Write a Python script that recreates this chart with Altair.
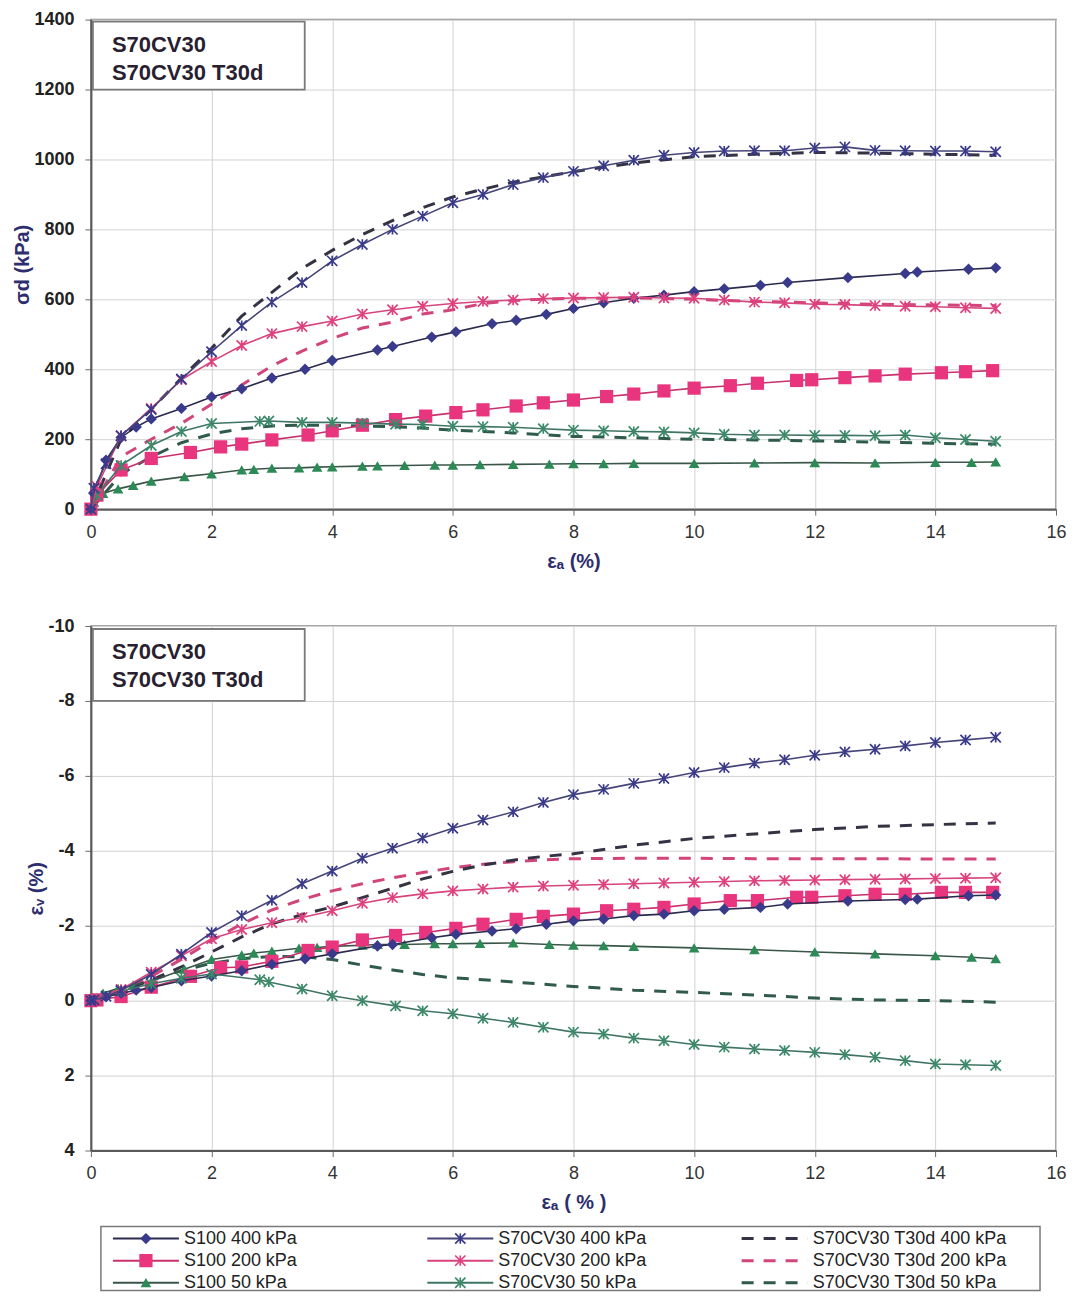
import altair as alt
import pandas as pd

# ---------------- data ----------------
X_TICKS = [0, 2, 4, 6, 8, 10, 12, 14, 16]
SD_TICKS = [0, 200, 400, 600, 800, 1000, 1200, 1400]
EV_TICKS = [-10, -8, -6, -4, -2, 0, 2, 4]
BOX_LINES = ["S70CV30", "S70CV30 T30d"]

ea_s100_400 = [0, 0.05, 0.25, 0.5, 0.75, 1.0, 1.5, 2.0, 2.5, 3.0, 3.55, 4.0, 4.75, 5.0, 5.65, 6.05,
               6.65, 7.05, 7.55, 8.0, 8.5, 9.0, 9.5, 10.0, 10.5, 11.1, 11.55, 12.55, 13.5, 13.7, 14.55, 15.0]
sd_s100_400 = [0, 45, 140, 205, 235, 258, 288, 321, 344, 375, 400, 425, 455, 465, 492, 507,
               530, 540, 557, 574, 590, 603, 612, 622, 630, 640, 648, 662, 674, 678, 686, 690]
ev_s100_400 = [0, -0.02, -0.1, -0.2, -0.28, -0.35, -0.53, -0.66, -0.8, -0.97, -1.12, -1.25, -1.46, -1.5, -1.68, -1.77,
               -1.86, -1.92, -2.04, -2.13, -2.18, -2.27, -2.31, -2.4, -2.44, -2.49, -2.58, -2.66, -2.7, -2.71, -2.8, -2.82]

ea_s100_200 = [0, 0.1, 0.5, 1.0, 1.65, 2.15, 2.5, 3.0, 3.6, 4.0, 4.5, 5.05, 5.55, 6.05, 6.5, 7.05,
               7.5, 8.0, 8.55, 9.0, 9.5, 10.0, 10.6, 11.05, 11.7, 11.95, 12.5, 13.0, 13.5, 14.1, 14.5, 14.95]
sd_s100_200 = [0, 40, 112, 145, 162, 178, 186, 198, 212, 224, 240, 256, 266, 276, 284, 295,
               304, 312, 322, 329, 338, 346, 353, 360, 368, 370, 376, 381, 386, 390, 393, 396]
ev_s100_200 = [0, -0.02, -0.11, -0.36, -0.65, -0.88, -0.9, -1.05, -1.34, -1.43, -1.62, -1.74, -1.82, -1.93, -2.04, -2.17,
               -2.25, -2.31, -2.4, -2.44, -2.49, -2.58, -2.67, -2.67, -2.76, -2.76, -2.8, -2.84, -2.84, -2.89, -2.89, -2.89]

ea_s100_50 = [0, 0.05, 0.2, 0.45, 0.7, 1.0, 1.55, 2.0, 2.5, 2.7, 3.0, 3.45, 3.75, 4.0, 4.5, 4.75,
              5.2, 5.7, 6.0, 6.45, 7.0, 7.6, 8.0, 8.5, 9.0, 10.0, 11.0, 12.0, 13.0, 14.0, 14.6, 15.0]
sd_s100_50 = [0, 20, 45, 58, 68, 80, 93, 101, 112, 114, 117, 118, 120, 121, 123, 124,
              125, 126, 126, 127, 128, 129, 130, 130, 131, 131, 132, 133, 132, 134, 134, 135]
ev_s100_50 = [0, -0.05, -0.2, -0.33, -0.42, -0.52, -0.84, -1.1, -1.22, -1.27, -1.32, -1.4, -1.42, -1.45, -1.48, -1.5,
              -1.5, -1.52, -1.52, -1.53, -1.54, -1.5, -1.48, -1.47, -1.45, -1.41, -1.36, -1.3, -1.25, -1.2, -1.16, -1.12]

ea_s70_400 = [0, 0.05, 0.25, 0.5, 1.0, 1.5, 2.0, 2.5, 3.0, 3.5, 4.0, 4.5, 5.0, 5.5, 6.0, 6.5, 7.0,
              7.5, 8.0, 8.5, 9.0, 9.5, 10.0, 10.5, 11.0, 11.5, 12.0, 12.5, 13.0, 13.5, 14.0, 14.5, 15.0]
sd_s70_400 = [0, 60, 130, 210, 285, 372, 450, 525, 592, 648, 710, 757, 800, 838, 876, 900, 928,
              948, 966, 982, 998, 1012, 1020, 1024, 1025, 1025, 1033, 1036, 1026, 1025, 1024, 1024, 1022]
ev_s70_400 = [0, -0.02, -0.12, -0.27, -0.7, -1.24, -1.82, -2.27, -2.68, -3.12, -3.46, -3.8, -4.07, -4.34, -4.6, -4.82, -5.04,
              -5.29, -5.5, -5.64, -5.8, -5.93, -6.09, -6.22, -6.34, -6.43, -6.55, -6.64, -6.71, -6.8, -6.89, -6.96, -7.03]

ea_s70_200 = [0, 0.1, 0.5, 1.0, 1.5, 2.0, 2.5, 3.0, 3.5, 4.0, 4.5, 5.0, 5.5, 6.0, 6.5, 7.0,
              7.5, 8.0, 8.5, 9.0, 9.5, 10.0, 10.5, 11.0, 11.5, 12.0, 12.5, 13.0, 13.5, 14.0, 14.5, 15.0]
sd_s70_200 = [0, 65, 210, 288, 370, 422, 468, 502, 522, 538, 558, 570, 580, 588, 594, 598,
              602, 604, 605, 606, 604, 603, 598, 592, 590, 586, 585, 582, 580, 579, 576, 574]
ev_s70_200 = [0, -0.05, -0.3, -0.76, -1.2, -1.65, -1.9, -2.08, -2.22, -2.4, -2.6, -2.75, -2.85, -2.93, -2.98, -3.03,
              -3.06, -3.08, -3.1, -3.12, -3.14, -3.16, -3.18, -3.2, -3.21, -3.22, -3.23, -3.24, -3.25, -3.26, -3.27, -3.28]

ea_s70_50 = [0, 0.1, 0.5, 1.0, 1.5, 2.0, 2.8, 2.95, 3.5, 4.0, 4.5, 5.05, 5.5, 6.0, 6.5, 7.0,
             7.5, 8.0, 8.5, 9.0, 9.5, 10.0, 10.5, 11.0, 11.5, 12.0, 12.5, 13.0, 13.5, 14.0, 14.5, 15.0]
sd_s70_50 = [0, 40, 125, 182, 222, 245, 251, 252, 248, 248, 246, 243, 242, 237, 236, 234,
             230, 226, 224, 222, 221, 218, 214, 212, 212, 211, 211, 210, 212, 204, 199, 194]
ev_s70_50 = [0, -0.05, -0.25, -0.45, -0.6, -0.71, -0.56, -0.5, -0.31, -0.13, 0.0, 0.14, 0.27, 0.35, 0.47, 0.58,
             0.71, 0.84, 0.89, 1.0, 1.07, 1.17, 1.24, 1.29, 1.33, 1.38, 1.44, 1.51, 1.6, 1.69, 1.71, 1.73]

ea_t30_400 = [0, 0.5, 1, 1.5, 2, 2.5, 3, 3.5, 4, 4.5, 5, 5.5, 6, 6.5, 7, 7.5, 8, 9, 10, 11, 12, 13, 14, 15]
sd_t30_400 = [0, 200, 285, 375, 460, 552, 620, 688, 740, 785, 825, 862, 893, 915, 935, 950, 965, 990, 1008, 1015, 1020, 1018, 1015, 1012]
ev_t30_400 = [0, -0.25, -0.55, -0.9, -1.3, -1.7, -2.05, -2.3, -2.5, -2.75, -3.0, -3.25, -3.45, -3.62, -3.75, -3.85, -3.92, -4.15, -4.33, -4.45, -4.57, -4.65, -4.7, -4.74]

ea_t30_200 = [0, 0.5, 1, 1.5, 2, 2.5, 3, 3.5, 4, 4.5, 5, 5.5, 6, 6.5, 7, 7.5, 8, 9, 10, 11, 12, 13, 14, 15]
sd_t30_200 = [0, 150, 200, 245, 300, 355, 410, 452, 488, 518, 535, 558, 570, 588, 597, 600, 603, 604, 600, 594, 590, 586, 584, 582]
ev_t30_200 = [0, -0.3, -0.65, -1.1, -1.6, -2.05, -2.42, -2.7, -2.93, -3.12, -3.28, -3.42, -3.55, -3.64, -3.71, -3.76, -3.79, -3.8, -3.8, -3.79, -3.79, -3.79, -3.78, -3.78]

ea_t30_50 = [0, 0.5, 1, 1.5, 2, 2.5, 3, 3.5, 4, 4.5, 5, 5.5, 6, 6.5, 7, 7.5, 8, 9, 10, 11, 12, 13, 14, 15]
sd_t30_50 = [0, 100, 150, 190, 215, 230, 238, 240, 240, 238, 236, 232, 226, 222, 218, 213, 208, 204, 200, 198, 195, 192, 188, 186]
ev_t30_50 = [0, -0.3, -0.55, -0.8, -1.0, -1.12, -1.18, -1.17, -1.1, -0.95, -0.82, -0.7, -0.61, -0.56, -0.5, -0.44, -0.38, -0.28, -0.22, -0.15, -0.07, -0.02, 0.0, 0.04]

SERIES_NAMES = ["S100 400 kPa", "S70CV30 400 kPa", "S70CV30 T30d 400 kPa",
                "S100 200 kPa", "S70CV30 200 kPa", "S70CV30 T30d 200 kPa",
                "S100 50 kPa", "S70CV30 50 kPa", "S70CV30 T30d 50 kPa"]
SERIES_DATA = {
    "S100 400 kPa": (ea_s100_400, sd_s100_400, ev_s100_400),
    "S70CV30 400 kPa": (ea_s70_400, sd_s70_400, ev_s70_400),
    "S70CV30 T30d 400 kPa": (ea_t30_400, sd_t30_400, ev_t30_400),
    "S100 200 kPa": (ea_s100_200, sd_s100_200, ev_s100_200),
    "S70CV30 200 kPa": (ea_s70_200, sd_s70_200, ev_s70_200),
    "S70CV30 T30d 200 kPa": (ea_t30_200, sd_t30_200, ev_t30_200),
    "S100 50 kPa": (ea_s100_50, sd_s100_50, ev_s100_50),
    "S70CV30 50 kPa": (ea_s70_50, sd_s70_50, ev_s70_50),
    "S70CV30 T30d 50 kPa": (ea_t30_50, sd_t30_50, ev_t30_50),
}

# ---------------- styles ----------------
STAR = "M-1,-1L1,1M-1,1L1,-1M0,-1L0,1"
NAVY = "#2e2e6e"
FONT = "Liberation Sans, Arial, DejaVu Sans, sans-serif"
STYLE = {
    "S100 400 kPa": dict(line="#2a2a4e", lw=1.6, dash=None, shape="diamond", mc="#3a3a8c", filled=True, size=130),
    "S100 200 kPa": dict(line="#c8306e", lw=1.6, dash=None, shape="square", mc="#e8357e", filled=True, size=175),
    "S100 50 kPa": dict(line="#3a5648", lw=1.6, dash=None, shape="triangle-up", mc="#2b8a55", filled=True, size=115),
    "S70CV30 400 kPa": dict(line="#45457a", lw=1.6, dash=None, shape=STAR, mc="#3a3a8c", filled=False, size=105),
    "S70CV30 200 kPa": dict(line="#d8457e", lw=1.6, dash=None, shape=STAR, mc="#e0407e", filled=False, size=105),
    "S70CV30 50 kPa": dict(line="#3f7564", lw=1.6, dash=None, shape=STAR, mc="#3b8a6a", filled=False, size=105),
    "S70CV30 T30d 400 kPa": dict(line="#333344", lw=3, dash=[12, 10], shape=None),
    "S70CV30 T30d 200 kPa": dict(line="#d2457a", lw=3, dash=[12, 10], shape=None),
    "S70CV30 T30d 50 kPa": dict(line="#2f5a4c", lw=3, dash=[12, 10], shape=None),
}
DRAW_ORDER = ["S70CV30 T30d 50 kPa", "S70CV30 T30d 200 kPa", "S70CV30 T30d 400 kPa",
              "S100 50 kPa", "S100 200 kPa", "S100 400 kPa",
              "S70CV30 50 kPa", "S70CV30 200 kPa", "S70CV30 400 kPa"]

W = 966


def x_axis(title):
    return alt.Axis(values=X_TICKS, title=title, grid=True, gridColor="#d2d2d2", gridWidth=1,
                    domainColor="#5a5a5a", domainWidth=2, tickColor="#6a6a6a", tickSize=6,
                    labelFont=FONT, labelFontSize=18, labelColor="#333333", labelPadding=8,
                    labelFlush=False, labelOverlap=False,
                    titleFont=FONT, titleFontSize=20, titleFontWeight="bold", titleColor=NAVY,
                    titlePadding=10)


def y_axis(title, ticks):
    return alt.Axis(values=ticks, title=title, grid=True, gridColor="#d2d2d2", gridWidth=1,
                    domainColor="#5a5a5a", domainWidth=2, tickColor="#6a6a6a", tickSize=6,
                    labelFont=FONT, labelFontSize=18, labelFontWeight="bold", labelColor="#222222",
                    labelPadding=11, labelExpr="'' + datum.value", labelOverlap=False,
                    titleFont=FONT, titleFontSize=20, titleFontWeight="bold", titleColor=NAVY,
                    titlePadding=1)


def panel(idx, ydomain, yticks, reverse, height, ytitle, xtitle, box_y):
    xs = alt.X("ea:Q", scale=alt.Scale(domain=[0, 16], nice=False, zero=False), axis=x_axis(xtitle))
    ys = alt.Y("v:Q", scale=alt.Scale(domain=ydomain, nice=False, zero=False, reverse=reverse),
               axis=y_axis(ytitle, yticks))
    layers = []
    for name in DRAW_ORDER:
        ea = SERIES_DATA[name][0]
        vals = SERIES_DATA[name][idx]
        df = pd.DataFrame({"ea": ea, "v": vals})
        st = STYLE[name]
        kw = dict(color=st["line"], strokeWidth=st["lw"])
        if st["dash"]:
            kw["strokeDash"] = st["dash"]
        layers.append(alt.Chart(df).mark_line(**kw).encode(x=xs, y=ys))
        if st["shape"]:
            if st["filled"]:
                pm = alt.Chart(df).mark_point(shape=st["shape"], filled=True, color=st["mc"],
                                              size=st["size"], opacity=1)
            else:
                pm = alt.Chart(df).mark_point(shape=st["shape"], filled=False, color=st["mc"],
                                              size=st["size"], strokeWidth=1.7, opacity=1)
            layers.append(pm.encode(x=xs, y=ys))
    box_df = pd.DataFrame({"t": BOX_LINES})
    box = alt.Chart(box_df.head(1)).mark_rect(fill="white", stroke="#7a7a7a", strokeWidth=1.8).encode(
        x=alt.value(2), x2=alt.value(214), y=alt.value(box_y[0]), y2=alt.value(box_y[1]))
    layers.append(box)
    for k in range(len(BOX_LINES)):
        t = alt.Chart(box_df.iloc[[k]]).mark_text(
            align="left", baseline="middle", font=FONT, fontSize=22, fontWeight="bold",
            color="#2a1f30").encode(x=alt.value(21), y=alt.value(box_y[2] + 28 * k), text="t:N")
        layers.append(t)
    return alt.layer(*layers).properties(
        width=W, height=height,
        view=alt.ViewBackground(stroke="#8a8a8a", strokeWidth=1.5))


top = panel(1, [0, 1400], SD_TICKS, False, 490, "σd (kPa)", "εₐ (%)", (2, 70, 25))
bottom = panel(2, [-10, 4], EV_TICKS, True, 525, "εᵥ (%)", "εₐ ( % )", (3, 75, 26))

# ---------------- legend panel ----------------
LEG_H = 64
leg_layers = []
frame_df = pd.DataFrame({"k": [0]})
leg_layers.append(alt.Chart(frame_df).mark_rect(fill="white", stroke="#7a7a7a", strokeWidth=1.5).encode(
    x=alt.value(10), x2=alt.value(950), y=alt.value(0), y2=alt.value(LEG_H)))
lx = alt.Scale(domain=[-0.07, 3], nice=False, zero=False)
ly = alt.Scale(domain=[-0.55, 2.35], nice=False, zero=False, reverse=True)
for i, name in enumerate(SERIES_NAMES):
    st = STYLE[name]
    d = pd.DataFrame({"label": [name], "col": [i % 3], "row": [i // 3]})
    base = alt.Chart(d).transform_calculate(x0="datum.col", x1="datum.col + 0.21", xm="datum.col + 0.105")
    kw = dict(color=st["line"], strokeWidth=st["lw"] if st["dash"] else 2)
    if st["dash"]:
        kw["strokeDash"] = [12, 10]
    leg_layers.append(base.mark_rule(**kw).encode(
        x=alt.X("x0:Q", scale=lx, axis=None), x2="x1:Q", y=alt.Y("row:Q", scale=ly, axis=None)))
    if st["shape"]:
        if st["filled"]:
            pm = base.mark_point(shape=st["shape"], filled=True, color=st["mc"], size=st["size"], opacity=1)
        else:
            pm = base.mark_point(shape=st["shape"], filled=False, color=st["mc"], size=st["size"],
                                 strokeWidth=1.7, opacity=1)
        leg_layers.append(pm.encode(x=alt.X("xm:Q", scale=lx, axis=None),
                                    y=alt.Y("row:Q", scale=ly, axis=None)))
    leg_layers.append(base.mark_text(align="left", baseline="middle", dx=5, font=FONT, fontSize=18,
                                     color="#222222").encode(
        x=alt.X("x1:Q", scale=lx, axis=None), y=alt.Y("row:Q", scale=ly, axis=None), text="label:N"))

legend = alt.layer(*leg_layers).properties(
    width=W, height=LEG_H, view=alt.ViewBackground(strokeOpacity=0))

chart = alt.vconcat(alt.vconcat(top, bottom, spacing=44), legend, spacing=12).properties(
    padding={"left": 4, "top": 1, "right": 0, "bottom": 0},
    background="white",
)

chart.save("out.html", embed_options={"renderer": "svg", "actions": False})
